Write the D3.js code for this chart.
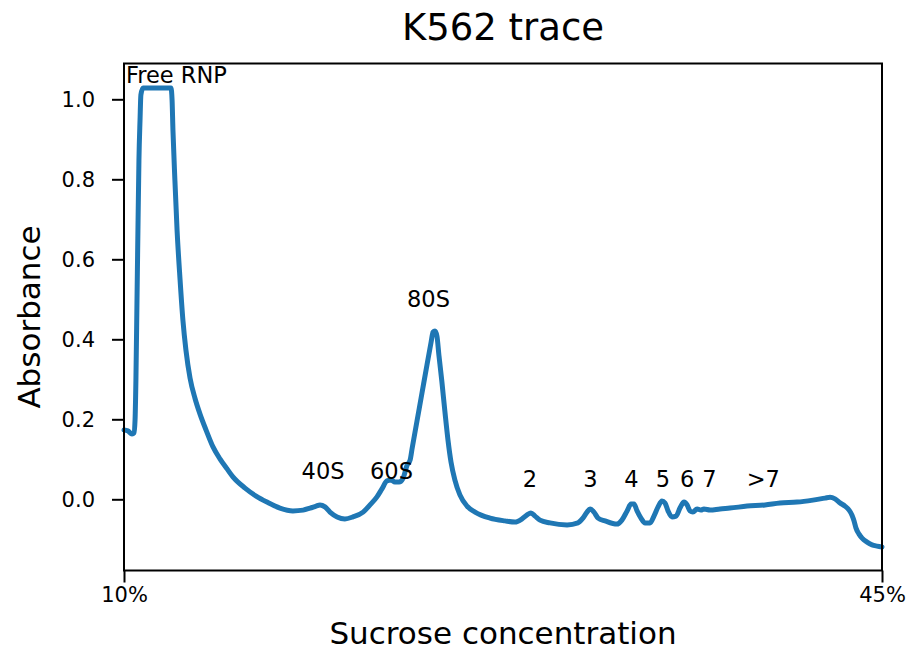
<!DOCTYPE html>
<html>
<head>
<meta charset="utf-8">
<script src="https://cdn.jsdelivr.net/npm/d3@7"></script>
<style>
  body { margin: 0; background: #fff; }
  text { font-family: "DejaVu Sans", sans-serif; fill: #000; }
</style>
</head>
<body>
<div id="chart-area"></div>
<script>

/* data: sucrose % and absorbance */
const sucrose = [
    10.00, 10.18, 10.37, 10.46, 10.51, 10.55, 10.60, 10.65, 10.69, 10.74,
    10.78, 10.88, 11.20, 11.66, 12.17, 12.22, 12.26, 12.35, 12.45, 12.59,
    12.72, 12.86, 13.05, 13.28, 13.51, 13.79, 14.11, 14.43, 14.76, 15.03,
    15.59, 16.10, 16.60, 17.20, 17.80, 18.27, 18.59, 18.87, 19.05, 19.28,
    19.51, 19.84, 20.20, 20.57, 21.04, 21.36, 21.68, 21.91, 22.14, 22.33,
    22.51, 22.70, 22.88, 23.07, 23.21, 23.30, 23.53, 23.76, 23.99, 24.18,
    24.27, 24.36, 24.45, 24.54, 24.68, 24.82, 24.96, 25.10, 25.28, 25.51,
    25.84, 26.21, 26.90, 27.59, 28.05, 28.38, 28.61, 28.79, 28.98, 29.21,
    29.67, 30.46, 30.96, 31.19, 31.38, 31.52, 31.70, 31.89, 32.21, 32.76,
    32.99, 33.23, 33.41, 33.55, 33.69, 33.87, 34.06, 34.29, 34.47, 34.66,
    34.84, 34.98, 35.12, 35.30, 35.49, 35.67, 35.86, 36.00, 36.13, 36.27,
    36.46, 36.64, 36.78, 37.06, 37.52, 37.98, 38.77, 39.60, 40.29, 41.08,
    41.81, 42.37, 42.60, 42.83, 43.06, 43.29, 43.48, 43.61, 43.71, 43.80,
    43.94, 44.08, 44.31, 44.54, 44.77, 45.00
];
const absorbance = [
    0.173, 0.171, 0.163, 0.166, 0.198, 0.298, 0.498, 0.698, 0.848, 0.948,
    1.011, 1.028, 1.028, 1.028, 1.028, 0.998, 0.923, 0.798, 0.673, 0.548,
    0.448, 0.373, 0.303, 0.252, 0.213, 0.173, 0.131, 0.101, 0.076, 0.056,
    0.028, 0.008, -0.007, -0.022, -0.029, -0.027, -0.022, -0.017, -0.014, -0.019,
    -0.032, -0.044, -0.049, -0.044, -0.032, -0.014, 0.006, 0.026, 0.046, 0.048,
    0.043, 0.043, 0.052, 0.085, 0.098, 0.126, 0.196, 0.266, 0.336, 0.393,
    0.418, 0.421, 0.408, 0.361, 0.293, 0.218, 0.148, 0.093, 0.048, 0.011,
    -0.017, -0.032, -0.047, -0.054, -0.057, -0.049, -0.039, -0.034, -0.042, -0.052,
    -0.059, -0.064, -0.059, -0.047, -0.032, -0.024, -0.032, -0.047, -0.054, -0.062,
    -0.052, -0.029, -0.012, -0.012, -0.029, -0.047, -0.059, -0.059, -0.042, -0.019,
    -0.004, -0.009, -0.029, -0.044, -0.042, -0.022, -0.007, -0.014, -0.029, -0.032,
    -0.024, -0.027, -0.024, -0.027, -0.024, -0.022, -0.017, -0.014, -0.009, -0.007,
    -0.002, 0.003, 0.005, 0.001, -0.009, -0.017, -0.027, -0.039, -0.054, -0.072,
    -0.087, -0.097, -0.107, -0.114, -0.117, -0.119
];

/* peak labels: text, x (sucrose %), y (absorbance) of the text baseline */
const peakNames = ["Free RNP", "40S", "60S", "80S", "2", "3", "4", "5", "6", "7", ">7"];
const peakX = [10.09, 18.2, 21.36, 23.07, 28.41, 31.21, 33.10, 34.55, 35.67, 36.70, 38.75];
const peakY = [1.04, 0.05, 0.05, 0.48, 0.032, 0.032, 0.032, 0.032, 0.032, 0.032, 0.032];

const yTicks = [0.0, 0.2, 0.4, 0.6, 0.8, 1.0];
const xTicks = [10, 45];

const points = sucrose.map((s, i) => ({ x: s, y: absorbance[i] }));

/* graphical constants */
const svgWidth = 912;
const svgHeight = 654;
const margin = { left: 124, right: 30, top: 63.5, bottom: 83.5 };
const width = svgWidth - margin.left - margin.right;
const height = svgHeight - margin.top - margin.bottom;

const svg = d3.select("#chart-area")
    .append("svg")
    .attr("width", svgWidth)
    .attr("height", svgHeight);

const g = svg.append("g")
    .attr("transform", "translate(" + margin.left + ", " + margin.top + ")");

// X Scale
const x = d3.scaleLinear()
    .domain([10, 45])
    .range([0, width]);

// Y Scale
const y = d3.scaleLinear()
    .domain([-0.178, 1.0895])
    .range([height, 0]);

// X Axis
const xAxisGroup = g.append("g")
    .attr("transform", "translate(0," + height + ")")
    .call(d3.axisBottom(x)
        .tickValues(xTicks)
        .tickFormat(d => d + "%")
        .tickSizeInner(12)
        .tickSizeOuter(0)
        .tickPadding(5));

// Y Axis
const yAxisGroup = g.append("g")
    .call(d3.axisLeft(y)
        .tickValues(yTicks)
        .tickFormat(d3.format(".1f"))
        .tickSizeInner(12)
        .tickSizeOuter(0)
        .tickPadding(17));

[xAxisGroup, yAxisGroup].forEach(ax => {
    ax.select(".domain").remove();
    ax.selectAll(".tick line").attr("stroke", "#000").attr("stroke-width", 2);
    ax.selectAll(".tick text")
        .style("font-size", "21px")
        .style("font-family", "'DejaVu Sans', sans-serif");
});

// the trace
const line = d3.line()
    .x(d => x(d.x))
    .y(d => y(d.y))
    .curve(d3.curveMonotoneX);

g.append("path")
    .datum(points)
    .attr("fill", "none")
    .attr("stroke", "#1f77b4")
    .attr("stroke-width", 5)
    .attr("stroke-linejoin", "round")
    .attr("stroke-linecap", "round")
    .attr("d", line);

// frame
g.append("rect")
    .attr("width", width)
    .attr("height", height)
    .attr("fill", "none")
    .attr("stroke", "#000")
    .attr("stroke-width", 2);

// peak labels
g.selectAll(".peak")
    .data(peakNames)
    .enter()
    .append("text")
    .attr("class", "peak")
    .attr("x", (d, i) => x(peakX[i]))
    .attr("y", (d, i) => y(peakY[i]))
    .style("font-size", "22.5px")
    .text(d => d);

// title and axis labels
svg.append("text")
    .attr("x", margin.left + width / 2)
    .attr("y", 40)
    .attr("text-anchor", "middle")
    .style("font-size", "37px")
    .text("K562 trace");

svg.append("text")
    .attr("x", margin.left + width / 2)
    .attr("y", 644)
    .attr("text-anchor", "middle")
    .style("font-size", "31px")
    .text("Sucrose concentration");

svg.append("text")
    .attr("transform", "translate(40," + (margin.top + height / 2) + ") rotate(-90)")
    .attr("text-anchor", "middle")
    .style("font-size", "31px")
    .text("Absorbance");

</script>
</body>
</html>
